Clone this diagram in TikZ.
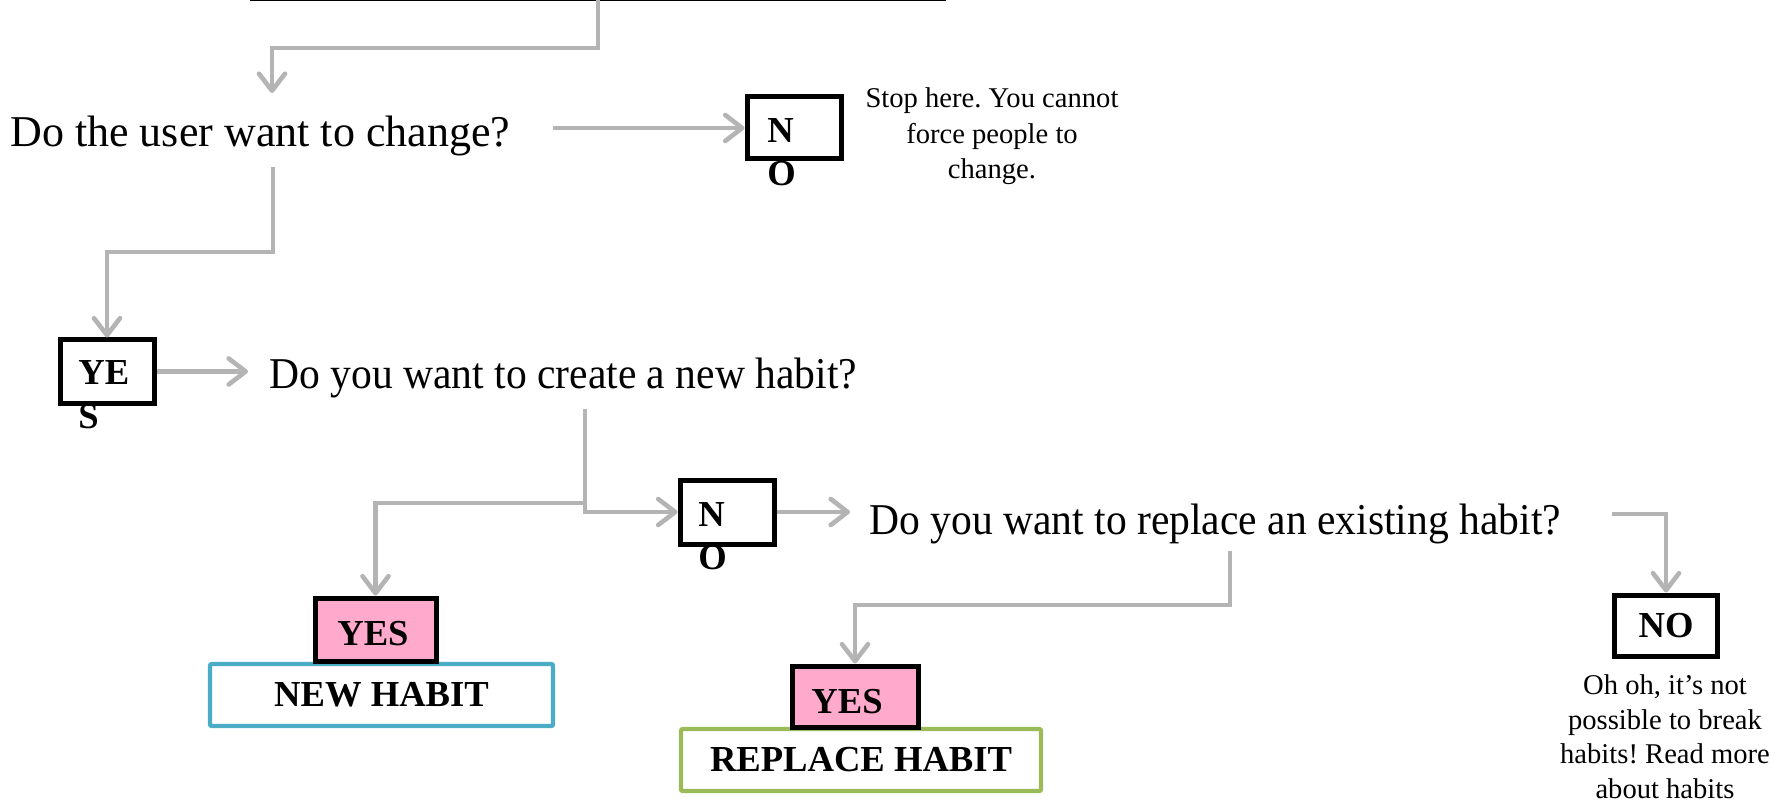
\documentclass[tikz,border=0pt]{standalone}
\usepackage{fontspec}
\setmainfont{Liberation Serif}
\newfontfamily\narrowq[FakeStretch=0.945]{Liberation Serif}
\usetikzlibrary{arrows.meta,calc}
\definecolor{conn}{RGB}{180,180,180}
\definecolor{pinkfill}{RGB}{255,170,204}
\definecolor{bluebd}{RGB}{75,172,198}
\definecolor{greenbd}{RGB}{155,187,89}
\frenchspacing
\begin{document}
\begin{tikzpicture}[x=0.5pt,y=-0.5pt,
  conn/.style={draw=conn, line width=2.3pt, -{Straight Barb[length=8.5pt,width=13pt,round]}},
  qtext/.style={inner sep=0pt, anchor=base west, font=\fontsize{22}{26}\selectfont},
  qtextn/.style={qtext, font=\narrowq\fontsize{22}{26}\selectfont},
  note/.style={inner sep=0pt, anchor=north, align=center, font=\fontsize{14.3}{17.8}\selectfont},
  abox/.style={draw=black, line width=2.5pt, fill=white, inner sep=0pt},
  pinkbox/.style={draw=black, line width=2.5pt, fill=pinkfill, inner sep=0pt},
  habitbox/.style={line width=2.2pt, fill=white, rounded corners=1pt, inner sep=0pt, font=\bfseries\fontsize{18.3}{22}\selectfont},
  btxt/.style={inner sep=0pt, anchor=base west, font=\bfseries\fontsize{18.3}{22}\selectfont},
  btxtc/.style={inner sep=0pt, font=\bfseries\fontsize{18.3}{22}\selectfont}
]
\useasboundingbox (0,0) rectangle (1781,807);
% cut-off shape at the top
\draw[line width=1pt] (250,0.5) -- (946,0.5);
\coordinate (top) at (598,0.5);

% question 1
\node[qtext] (q1) at (10,147) {Do the user want to change?};
\coordinate (q1in) at (272,93);
\coordinate (q1out) at (553,128);
\coordinate (q1down) at (273,167);

\node[abox, minimum width=47pt, minimum height=31pt] (no1) at (794,128) {};
\node[btxt] (no1a) at (767,143) {N};
\node[btxt] (no1b) at (767,186) {O};
\node[note] (stop) at (992,87.5) {Stop here. You cannot\\force people to\\change.};

\node[abox, minimum width=47pt, minimum height=31.5pt] (yes1) at (107,371.5) {};
\node[btxt] (yes1a) at (78,385) {YE};
\node[btxt] (yes1b) at (78,428) {S};

% question 2
\node[qtextn] (q2) at (269,388) {Do you want to create a new habit?};
\coordinate (q2in) at (248,371.5);
\coordinate (q2down) at (585,409);
\coordinate (j1) at (585,503);

\node[abox, minimum width=47pt, minimum height=32pt] (no2) at (727,512) {};
\node[btxt] (no2a) at (698,526) {N};
\node[btxt] (no2b) at (698,569) {O};

% question 3
\node[qtextn] (q3) at (869,534) {Do you want to replace an existing habit?};
\coordinate (q3in) at (850,512);
\coordinate (q3down) at (1230,551);
\coordinate (q3out) at (1612,514);

\node[abox, minimum width=51.5pt, minimum height=30.5pt, font=\bfseries\fontsize{18.3}{22}\selectfont] (no3) at (1666,625.5) {NO};
\node[note, font=\fontsize{14.3}{17.4}\selectfont] (ohoh) at (1665,674) {Oh oh, it’s not\\possible to break\\habits! Read more\\about habits};

% outcomes
\node[habitbox, draw=bluebd, minimum width=171.5pt, minimum height=31pt] (newh) at (381.5,695) {NEW HABIT};
\node[pinkbox, minimum width=60.5pt, minimum height=31.5pt] (yesA) at (375.5,629.5) {};
\node[btxt] (yesAt) at (337,645) {YES};

\node[habitbox, draw=greenbd, minimum width=180pt, minimum height=31pt] (replh) at (861,760) {REPLACE HABIT};
\node[pinkbox, minimum width=63pt, minimum height=30.5pt] (yesB) at (855,696.5) {};
\node[btxt] (yesBt) at (811,713) {YES};

% connectors
\draw[conn] (top) -- ++(0,47.5) -| (q1in);
\draw[conn] (q1out) -- (no1.west);
\draw[conn] (q1down) -- ++(0,85) -| (yes1.north);
\draw[conn] (yes1.east) -- (q2in);
\draw[conn] (q2down) |- (no2.west);
\draw[conn] (j1) -| (yesA.north);
\draw[conn] (no2.east) -- (q3in);
\draw[conn] (q3down) -- ++(0,54) -| (yesB.north);
\draw[conn] (q3out) -| (no3.north);
\end{tikzpicture}
\end{document}
